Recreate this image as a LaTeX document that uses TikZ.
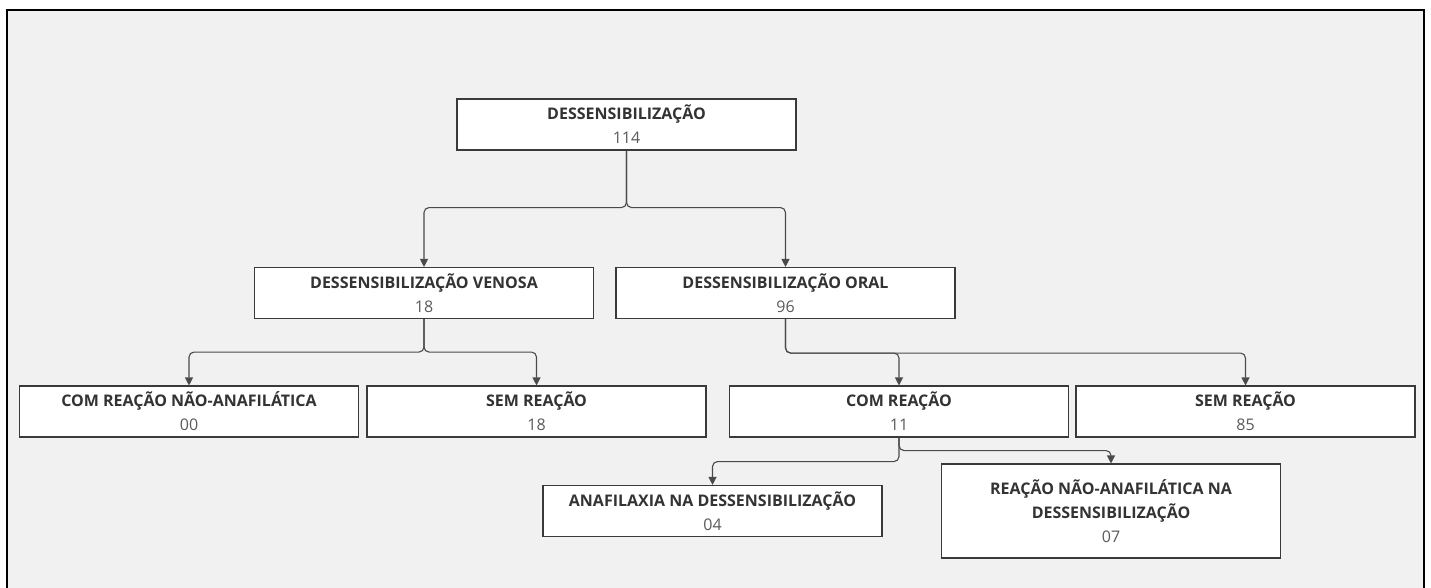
\documentclass[tikz,border=0pt]{standalone}
\usepackage{fontspec}
\setmainfont{Open Sans}
\usetikzlibrary{arrows.meta}

\definecolor{bggray}{HTML}{F1F1F1}
\definecolor{edgegray}{HTML}{3A3A3A}
\definecolor{linkgray}{HTML}{4A4A4A}
\definecolor{titlegray}{HTML}{333333}
\definecolor{numgray}{HTML}{5A5A5A}

\begin{document}
\begin{tikzpicture}[x=1pt,y=-1pt,>={Triangle[length=8pt,width=8pt]},
  box/.style={draw=edgegray,fill=white,line width=1.1pt,minimum width=339,minimum height=51,
    align=center,inner sep=2pt,text=titlegray,font=\fontsize{16}{24}\selectfont},
  link/.style={->,draw=linkgray,line width=1.1pt,rounded corners=5pt}]
\useasboundingbox (0,0) rectangle (1431,588);
\fill[bggray] (7,10) rectangle (1424,588);
\draw[line width=2pt,black] (7,588) -- (7,10) -- (1424,10) -- (1424,588);
% boxes
\node[box] (dess) at (626.5,124.5) {\bfseries DESSENSIBILIZAÇÃO\\{\color{numgray}114}};
\node[box] (venosa) at (424,293) {\bfseries DESSENSIBILIZAÇÃO VENOSA\\{\color{numgray}18}};
\node[box] (oral) at (785.5,293) {\bfseries DESSENSIBILIZAÇÃO ORAL\\{\color{numgray}96}};
\node[box] (comnao) at (189,411.5) {\bfseries COM REAÇÃO NÃO-ANAFILÁTICA\\{\color{numgray}00}};
\node[box] (semv) at (536.5,411.5) {\bfseries SEM REAÇÃO\\{\color{numgray}18}};
\node[box] (comreac) at (899,411.5) {\bfseries COM REAÇÃO\\{\color{numgray}11}};
\node[box] (semo) at (1245.5,411.5) {\bfseries SEM REAÇÃO\\{\color{numgray}85}};
\node[box] (anaf) at (712.5,511) {\bfseries ANAFILAXIA NA DESSENSIBILIZAÇÃO\\{\color{numgray}04}};
\node[box,minimum height=94] (reacnao) at (1111,511) {\bfseries REAÇÃO NÃO-ANAFILÁTICA NA\\\bfseries DESSENSIBILIZAÇÃO\\{\color{numgray}07}};
% connectors
\draw[link] (dess.south) -- ++(0,57) -| (venosa.north);
\draw[link] (dess.south) -- ++(0,57) -| (oral.north);
\draw[link] (venosa.south) -- ++(0,33) -| (comnao.north);
\draw[link] (venosa.south) -- ++(0,33) -| (semv.north);
\draw[link] (oral.south) -- ++(0,34) -| (comreac.north);
\draw[link] (oral.south) -- ++(0,34) -| (semo.north);
\draw[link] (comreac.south) -- ++(0,13) -| (reacnao.north);
\draw[link] (comreac.south) -- ++(0,24) -| (anaf.north);
\end{tikzpicture}
\end{document}
